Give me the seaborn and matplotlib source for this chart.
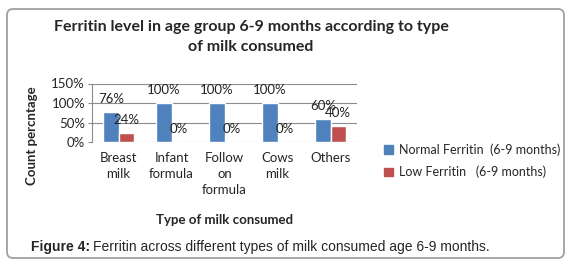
import matplotlib
matplotlib.use("Agg")
import matplotlib.pyplot as plt
import seaborn as sns
import pandas as pd
from matplotlib.patches import FancyBboxPatch, Patch
from matplotlib.transforms import IdentityTransform

categories = ["Breast\nmilk", "Infant\nformula", "Follow\non\nformula", "Cows\nmilk", "Others"]
normal_ferritin = [76, 100, 100, 100, 60]
low_ferritin = [24, 0, 0, 0, 40]
series_names = ["Normal Ferritin  (6-9 months)", "Low Ferritin   (6-9 months)"]
y_ticks = [0, 50, 100, 150]

df = pd.DataFrame({
    "category": categories * 2,
    "value": normal_ferritin + low_ferritin,
    "series": [series_names[0]] * 5 + [series_names[1]] * 5,
})

sns.set_theme(style="white")
plt.rcParams["font.family"] = ["Lato", "DejaVu Sans"]

W, H = 574, 271
fig = plt.figure(figsize=(W / 100, H / 100), dpi=100)
# axes: x 92..357, y 83.5..142 (pixels from top)
ax = fig.add_axes([92 / W, 1 - 142 / H, (357 - 92) / W, (142 - 83.5) / H])

colors = ["#4F81BD", "#C0504D"]
sns.barplot(data=df, x="category", y="value", hue="series", palette=colors,
            width=0.57, ax=ax, legend=False, saturation=1)

ax.set_ylim(0, 150)
ax.set_yticks(y_ticks)
ax.set_yticklabels([f"{t}%" for t in y_ticks], fontsize=9.5)
ax.set_xlim(-0.5, 4.5)
ax.yaxis.grid(True, color="#8c8c8c", linewidth=0.8)
ax.set_axisbelow(True)
for s in ["top", "right", "bottom"]:
    ax.spines[s].set_visible(False)
ax.spines["left"].set_color("#8c8c8c")
ax.spines["left"].set_linewidth(0.8)
ax.tick_params(axis="y", length=3, color="#8c8c8c", width=0.8, pad=2, left=True)
ax.tick_params(axis="x", length=0, pad=7)
for lab in ax.get_xticklabels():
    lab.set_fontsize(9.5)
    lab.set_linespacing(1.4)
    lab.set_verticalalignment("top")

ax.set_xlabel("Type of milk consumed", fontsize=9.5, fontweight="bold")
ax.set_ylabel("Count percntage", fontsize=9.5, fontweight="bold")
ax.xaxis.set_label_coords(0.5, -1.23)
ax.yaxis.set_label_coords(-0.205, 0.1)

for cont in ax.containers:
    ax.bar_label(cont, labels=[f"{int(v.get_height())}%" for v in cont], padding=5,
                 fontsize=9.5, color="#222222")

fig.text(251 / W, 1 - 27 / H, "Ferritin level in age group 6-9 months according to type",
         ha="center", va="center", fontsize=11.5, fontweight="bold")
fig.text(251 / W, 1 - 47 / H, "of milk consumed",
         ha="center", va="center", fontsize=11.5, fontweight="bold")

handles = [Patch(color=c) for c in colors]
fig.legend(handles, series_names, loc="upper left", bbox_to_anchor=(373 / W, 1 - 132 / H),
           frameon=False, fontsize=9, handlelength=0.7, handleheight=0.7,
           handletextpad=0.5, labelspacing=0.8)

# caption
fig.canvas.draw()
r = fig.canvas.get_renderer()
t1 = fig.text(31 / W, 1 - 247 / H, "Figure 4:", ha="left", va="center",
              fontsize=10, fontweight="bold", family=["Liberation Sans"])
bb = t1.get_window_extent(renderer=r)
fig.text((bb.x1 + 3) / W, 1 - 247 / H,
         "Ferritin across different types of milk consumed age 6-9 months.",
         ha="left", va="center", fontsize=10, family=["Liberation Sans"])

box = FancyBboxPatch((7, H - 258), 557, 249, boxstyle="round,pad=0,rounding_size=6",
                     transform=IdentityTransform(), facecolor="none",
                     edgecolor="#a0a0a0", linewidth=1.3)
fig.add_artist(box)

fig.savefig("out.png", dpi=100)
